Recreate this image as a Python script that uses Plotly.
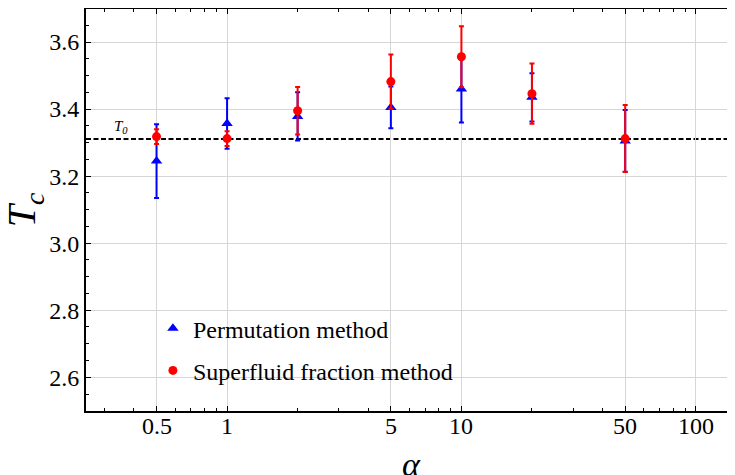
import plotly.graph_objects as go
import math

# ---- data ----
alpha = [0.5, 1, 2, 5, 10, 20, 50]
perm_tc = [3.245, 3.357, 3.378, 3.405, 3.460, 3.435, 3.305]
perm_err = [0.110, 0.075, 0.072, 0.062, 0.100, 0.072, 0.092]
sf_tc = [3.318, 3.312, 3.395, 3.482, 3.556, 3.446, 3.312]
sf_err = [0.022, 0.022, 0.071, 0.081, 0.091, 0.090, 0.100]
T0 = 3.311

x_tickvals = [0.5, 1, 5, 10, 50, 100]
x_ticktext = ["0.5", "1", "5", "10", "50", "100"]
x_minor = [0.3, 0.4, 0.6, 0.7, 0.8, 0.9, 2, 3, 4, 6, 7, 8, 9,
           20, 30, 40, 60, 70, 80, 90]
y_tickvals = [2.6, 2.8, 3.0, 3.2, 3.4, 3.6]
y_ticktext = ["2.6", "2.8", "3.0", "3.2", "3.4", "3.6"]

FONT = "Liberation Serif"
BLUE = "#0000FF"
RED = "#FF0000"
GRID = "#d6d6d6"

fig = go.Figure()
fig.add_trace(go.Scatter(
    x=alpha, y=perm_tc, mode="markers", name="Permutation method",
    legendgroup="a",
    marker=dict(symbol="triangle-up", size=10, color=BLUE),
    error_y=dict(type="data", array=perm_err, color=BLUE, thickness=2, width=2.5),
))
fig.add_trace(go.Scatter(
    x=alpha, y=sf_tc, mode="markers", name="Superfluid fraction method",
    legendgroup="b",
    marker=dict(symbol="circle", size=9, color=RED),
    error_y=dict(type="data", array=sf_err, color=RED, thickness=2, width=2.5),
))

fig.add_shape(type="line", xref="x domain", x0=0, x1=1, yref="y", y0=T0, y1=T0,
              line=dict(color="black", width=2, dash="5px,2.5px"), layer="below")

fig.add_annotation(text="<i>T<sub>0</sub></i>", xref="paper", x=0.0537, xanchor="center",
                   yref="y", y=T0, yshift=12, showarrow=False,
                   font=dict(family=FONT, size=15, color="black"))

# x tick labels placed as text just under the axis
for v, t in zip(x_tickvals, x_ticktext):
    fig.add_annotation(text=t, xref="x", x=math.log10(v), yref="paper", y=0,
                       xanchor="center", yanchor="middle", yshift=-15,
                       showarrow=False, font=dict(family=FONT, size=24, color="black"))

# axis titles
fig.add_annotation(text="<i>α</i>", xref="paper", x=0.5, xanchor="center",
                   yref="paper", y=0, yanchor="middle", yshift=-53,
                   showarrow=False, font=dict(family=FONT, size=34, color="black"))
fig.add_annotation(text="<i>T<sub>c</sub></i>", textangle=-90,
                   xref="paper", x=-0.095, xanchor="center",
                   yref="paper", y=0.5, yanchor="middle",
                   showarrow=False, font=dict(family=FONT, size=40, color="black"))

fig.update_layout(
    width=735, height=475,
    margin=dict(l=78, r=5.5, t=1, b=72.3),
    paper_bgcolor="white", plot_bgcolor="white",
    font=dict(family=FONT, color="black"),
    showlegend=True,
    legend=dict(x=0.1028, y=0.261, xanchor="left", yanchor="top",
                font=dict(family=FONT, size=24, color="black"),
                bgcolor="rgba(0,0,0,0)", tracegroupgap=8),
    xaxis=dict(
        type="log", range=[math.log10(0.25), math.log10(150)], automargin=False,
        tickmode="array", tickvals=x_tickvals, ticktext=x_ticktext,
        showticklabels=False,
        ticks="inside", ticklen=5, tickwidth=1, tickcolor="black",
        minor=dict(tickmode="array", tickvals=x_minor, ticks="inside",
                   ticklen=3, tickwidth=1, tickcolor="black", showgrid=False),
        showline=True, linewidth=2, linecolor="black", mirror="allticks",
        showgrid=True, gridcolor=GRID, gridwidth=1, zeroline=False,
    ),
    yaxis=dict(
        range=[2.4994, 3.6985], automargin=False,
        tickmode="array", tickvals=y_tickvals, ticktext=y_ticktext,
        ticks="inside", ticklen=5, tickwidth=1, tickcolor="black",
        minor=dict(dtick=0.05, ticks="inside", ticklen=3, tickwidth=1,
                   tickcolor="black", showgrid=False),
        showline=True, linewidth=2, linecolor="black", mirror="allticks",
        showgrid=True, gridcolor=GRID, gridwidth=1, zeroline=False,
        tickfont=dict(family=FONT, size=24, color="black"),
    ),
)

fig.write_html("out.html")
